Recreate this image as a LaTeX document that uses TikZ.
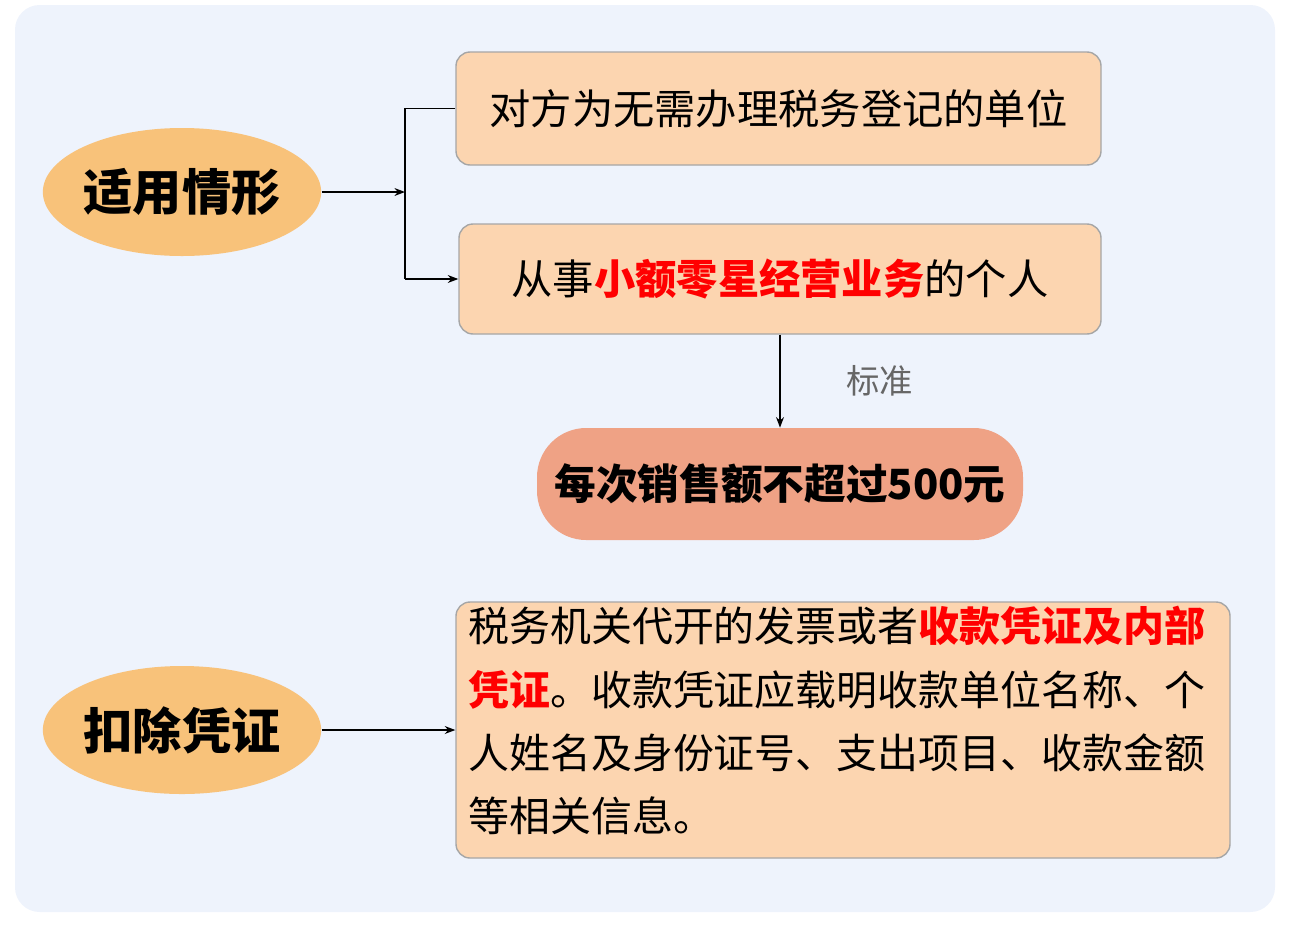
\documentclass[tikz,border=0pt]{standalone}
\usepackage{fontspec}
\setmainfont{Noto Sans CJK SC}
\usetikzlibrary{shapes.geometric,arrows.meta}
\definecolor{bg}{HTML}{EEF3FC}
\definecolor{ell}{HTML}{F8C27A}
\definecolor{peach}{HTML}{FCD5B0}
\definecolor{pill}{HTML}{EFA285}
\definecolor{red1}{HTML}{FF0000}
\tikzset{
 oval/.style={ellipse,fill=ell,inner sep=0pt,minimum width=268*0.02cm,minimum height=128*0.02cm,font=\fontsize{28}{30}\selectfont\bfseries},
 pbox/.style={draw=gray!70,fill=peach,rounded corners=8pt,line width=0.8pt},
 arr/.style={-{Stealth[length=6pt]},line width=0.8pt},
 ln/.style={line width=0.8pt}
}
\begin{document}
\begin{tikzpicture}[x=0.02cm,y=-0.02cm]
\useasboundingbox (0,0) rectangle (1290,927);
\fill[bg,rounded corners=14pt] (15,5) rectangle (1275,912);
\node[oval] (e1) at (182,192) {适用情形};
\node[oval] (e2) at (182,730) {扣除凭证};
\node[pbox,minimum width=645*0.02cm,minimum height=113*0.02cm,font=\fontsize{23.5}{26}\selectfont] (b1) at (778.5,108.5) {对方为无需办理税务登记的单位};
\node[pbox,minimum width=642*0.02cm,minimum height=110*0.02cm,font=\fontsize{23.5}{26}\selectfont] (b2) at (780,279) {从事\textcolor{red1}{\bfseries 小额零星经营业务}的个人};
\node[fill=pill,rounded corners=28pt,minimum width=486*0.02cm,minimum height=112*0.02cm,font=\fontsize{23.7}{26}\selectfont\bfseries] (p) at (780,484) {每次销售额不超过500元};
\node[pbox,minimum width=774*0.02cm,minimum height=256*0.02cm] (b3) at (843,730) {};
\node[anchor=north west,align=left,font=\fontsize{23.3}{36}\selectfont,inner sep=0pt] (t3) at (468,606) {税务机关代开的发票或者\textcolor{red1}{\bfseries 收款凭证及内部}\\\textcolor{red1}{\bfseries 凭证}。收款凭证应载明收款单位名称、个\\人姓名及身份证号、支出项目、收款金额\\等相关信息。};
\coordinate (j) at (405,192);
\draw[arr] (e1.east) -- (j);
\draw[ln] (b1.west) -- (405,108.5) -- (405,279);
\draw[arr] (405,279) -- (b2.west);
\draw[arr] (b2.south) -- node[right=34pt,font=\fontsize{19}{21}\selectfont,text=gray!80!black] (lb) {标准} (p.north);
\draw[arr] (e2.east) -- (b3.west);
\end{tikzpicture}
\end{document}
